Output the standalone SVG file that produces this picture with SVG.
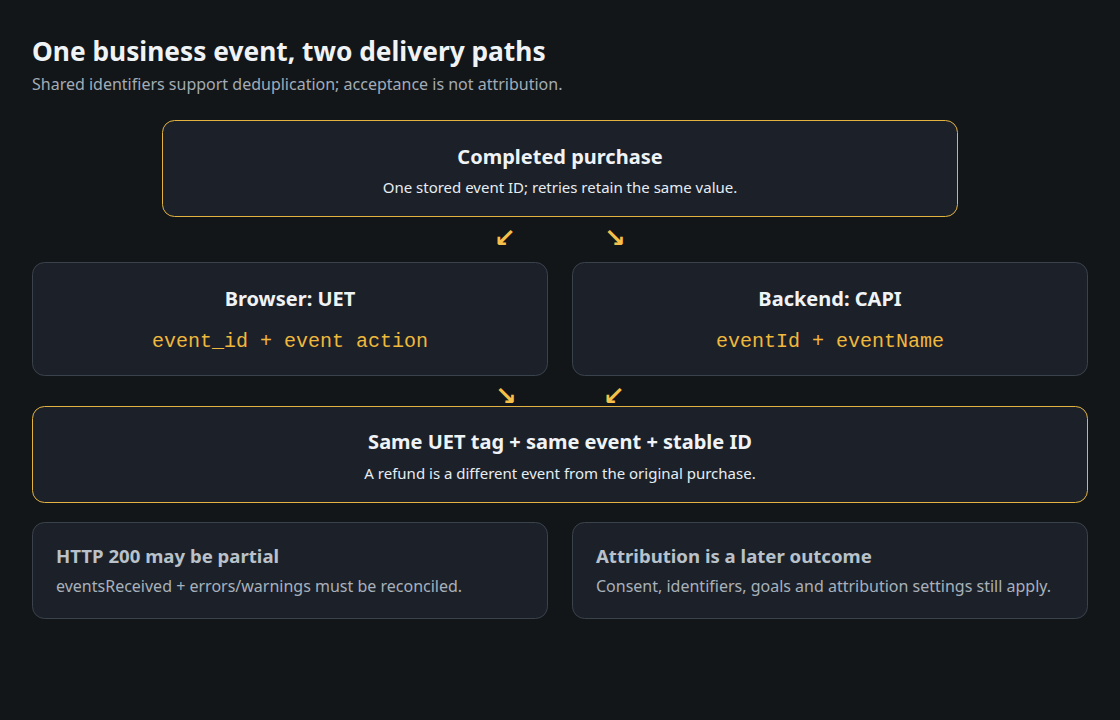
<svg xmlns="http://www.w3.org/2000/svg" width="1120" height="720" viewBox="0 0 1120 720">
<style>
.sans{font-family:"Noto Sans","Open Sans","Liberation Sans",sans-serif}
.box{fill:#1c2129;stroke:#3a424c;stroke-width:1}
.hl{stroke:#e3b341}
.t{font-weight:700;fill:#f0f3f6;font-size:20px;text-anchor:middle}
.s{fill:#e6edf3;font-size:15px;text-anchor:middle}
.m{font-family:"Liberation Mono","DejaVu Sans Mono",monospace;font-size:20px;fill:#f0b83c;text-anchor:middle}
.nt{font-weight:700;fill:#b9c1ca;font-size:18.6px}
.ns{fill:#a8b1bb;font-size:16px}
.arr{fill:#f5c04a;font-size:26px;font-weight:700;font-family:"DejaVu Sans",sans-serif;text-anchor:middle}
</style>
<rect width="1120" height="720" fill="#121619"/>
<text class="sans" x="32" y="61" font-size="26.3" font-weight="700" fill="#f0f3f6">One business event, two delivery paths</text>
<text class="sans" x="32" y="90" font-size="16" fill="#a3acb6">Shared identifiers support deduplication; acceptance is not attribution.</text>
<g id="purchase">
<rect class="box hl" x="162.5" y="120.5" width="795" height="96" rx="12"/>
<text class="sans t" x="560" y="164">Completed purchase</text>
<text class="sans s" x="560" y="193">One stored event ID; retries retain the same value.</text>
</g>
<g id="browser">
<rect class="box" x="32.5" y="262.5" width="515" height="113" rx="12"/>
<text class="sans t" x="290" y="306">Browser: UET</text>
<text class="m" x="290" y="347">event_id + event action</text>
</g>
<g id="backend">
<rect class="box" x="572.5" y="262.5" width="515" height="113" rx="12"/>
<text class="sans t" x="830" y="306">Backend: CAPI</text>
<text class="m" x="830" y="347">eventId + eventName</text>
</g>
<g id="dedup">
<rect class="box hl" x="32.5" y="406.5" width="1055" height="96" rx="12"/>
<text class="sans t" x="560" y="449">Same UET tag + same event + stable ID</text>
<text class="sans s" x="560" y="479">A refund is a different event from the original purchase.</text>
</g>
<g id="partial">
<rect class="box" x="32.5" y="522.5" width="515" height="96" rx="12"/>
<text class="sans nt" x="56" y="563">HTTP 200 may be partial</text>
<text class="sans ns" x="56" y="592">eventsReceived + errors/warnings must be reconciled.</text>
</g>
<g id="attribution">
<rect class="box" x="572.5" y="522.5" width="515" height="96" rx="12"/>
<text class="sans nt" x="596" y="563">Attribution is a later outcome</text>
<text class="sans ns" x="596" y="592">Consent, identifiers, goals and attribution settings still apply.</text>
</g>
<g id="connectors">
<text class="arr" x="505" y="247">↙</text>
<text class="arr" x="615" y="247">↘</text>
<text class="arr" x="506" y="405">↘</text>
<text class="arr" x="614" y="405">↙</text>
</g>
</svg>
